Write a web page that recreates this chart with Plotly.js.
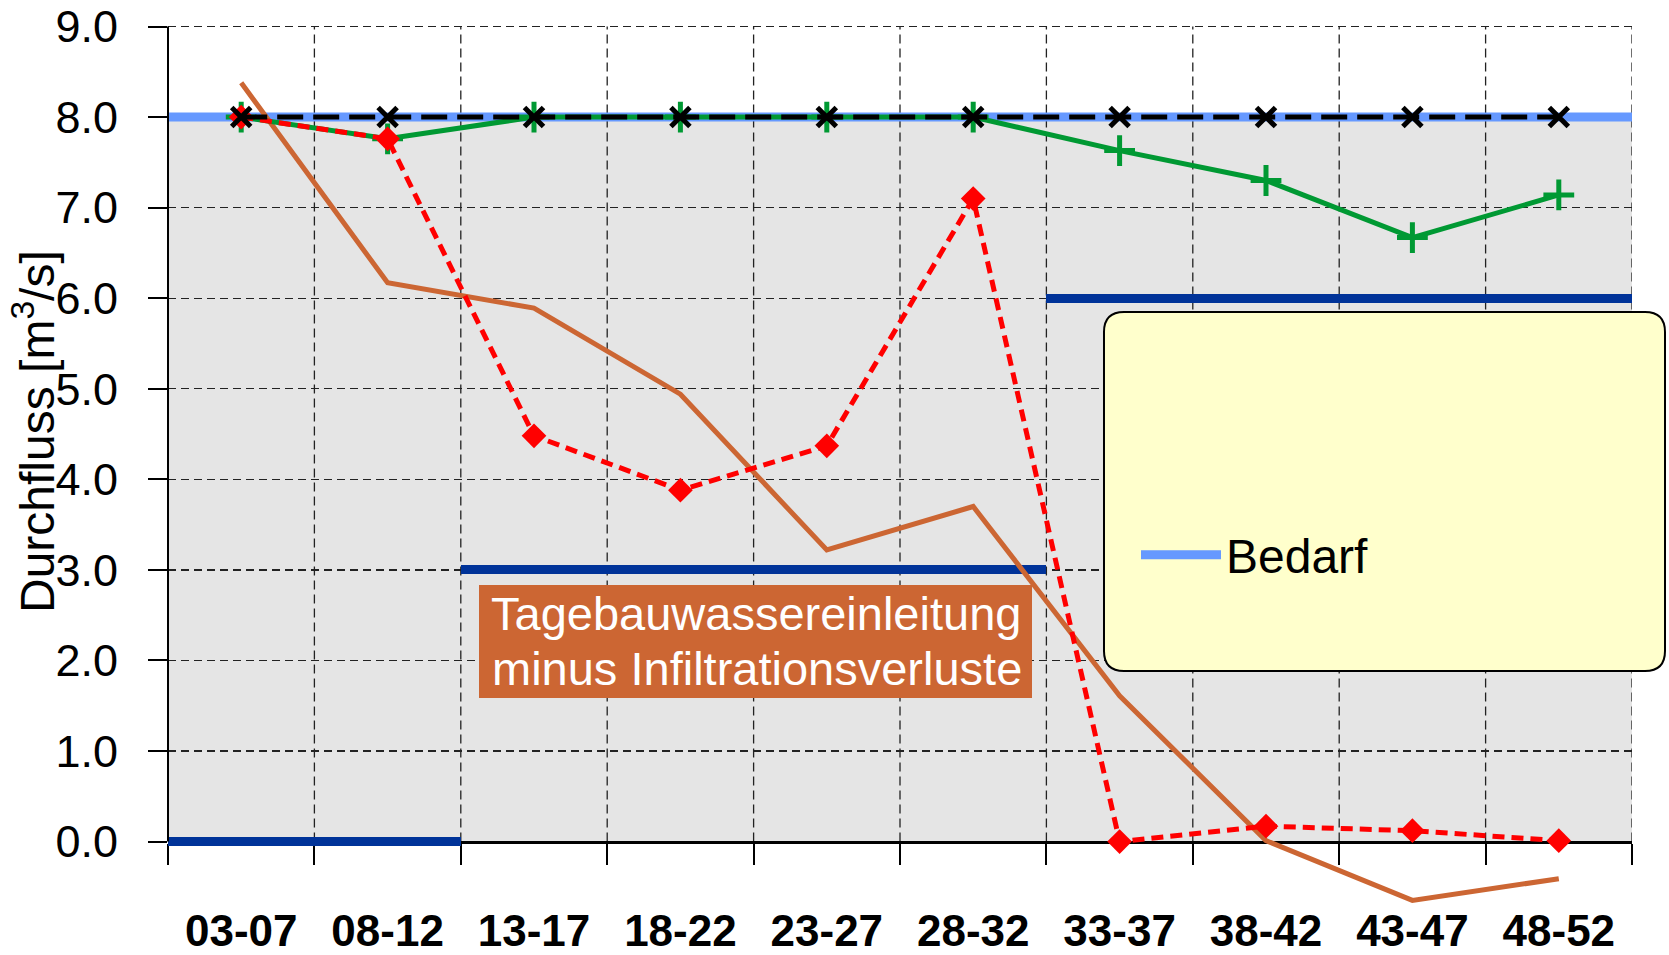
<!DOCTYPE html>
<html>
<head>
<meta charset="utf-8">
<script src="https://cdn.plot.ly/plotly-3.0.1.min.js"></script>
<style>html,body{margin:0;padding:0;background:#ffffff;}</style>
</head>
<body>
<div id="chart" style="width:1669px;height:955px;"></div>
<script>
// ---------- data ----------
const categories = ['03-07','08-12','13-17','18-22','23-27','28-32','33-37','38-42','43-47','48-52'];
const bedarf = [8, 8, 8, 8, 8, 8, 8, 8, 8, 8];
const zielwert = [8, 8, 8, 8, 8, 8, 8, 8, 8, 8];
const abflussGruen = [8.0, 7.76, 8.0, 8.0, 8.0, 8.0, 7.63, 7.30, 6.67, 7.14];
const abflussRot = [8.0, 7.76, 4.48, 3.88, 4.37, 7.10, 0.0, 0.17, 0.12, 0.01];
const tagebauwasser = [8.38, 6.17, 5.89, 4.94, 3.22, 3.70, 1.61, 0.01, -0.65, -0.41];
const stufe = [0, 0, 3, 3, 3, 3, 6, 6, 6, 6];
const yTickVals = [0, 1, 2, 3, 4, 5, 6, 7, 8, 9];
const yTickText = yTickVals.map(v => v.toFixed(1));
const yTitle = 'Durchfluss [m<sup>3</sup>/s]';
const annotationLines = ['Tagebauwassereinleitung', 'minus Infiltrationsverluste'];

// ---------- layout helpers (pixel -> paper) ----------
const W = 1669, H = 955;
const M = {l: 168, r: 37, t: 22, b: 41};
const PW = W - M.l - M.r, PH = H - M.t - M.b;
const X = p => (p - M.l) / PW;
const Y = p => (H - M.b - p) / PH;
const yMin = -0.8, yMax = 9.05;
const gridTop = Math.max(...yTickVals);
const stepThickness = 0.1;   // visual thickness of the step segments (data units)

const SANS = '"Liberation Sans", Arial, sans-serif';

function roundRect(x0, y0, x1, y1, r) {
  const f = (a, b) => X(a).toFixed(5) + ',' + Y(b).toFixed(5);
  return 'M' + f(x0 + r, y0) + ' L' + f(x1 - r, y0) + ' Q' + f(x1, y0) + ' ' + f(x1, y0 + r) +
         ' L' + f(x1, y1 - r) + ' Q' + f(x1, y1) + ' ' + f(x1 - r, y1) +
         ' L' + f(x0 + r, y1) + ' Q' + f(x0, y1) + ' ' + f(x0, y1 - r) +
         ' L' + f(x0, y0 + r) + ' Q' + f(x0, y0) + ' ' + f(x0 + r, y0) + ' Z';
}

// ---------- traces ----------
const traces = [
  { // Bedarf, drawn edge to edge via its own overlaid axis (first overlay = lowest)
    name: 'Bedarf', type: 'scatter', mode: 'lines',
    x: categories, y: bedarf, xaxis: 'x2', yaxis: 'y',
    line: {color: '#6699FF', width: 9}, showlegend: true
  },
  { // step segments, one full category wide each
    name: 'Stufe', type: 'bar',
    x: categories, y: stufe.map(() => stepThickness), base: stufe.map(v => v - stepThickness / 2),
    xaxis: 'x3', yaxis: 'y', width: 1,
    marker: {color: '#003399', line: {width: 0}}, showlegend: false
  },
  {
    name: 'Tagebauwassereinleitung minus Infiltrationsverluste', type: 'scatter', mode: 'lines',
    x: categories, y: tagebauwasser, xaxis: 'x3', yaxis: 'y',
    line: {color: '#CC6633', width: 5}, showlegend: false
  },
  {
    name: 'Abfluss A', type: 'scatter', mode: 'lines+markers',
    x: categories, y: abflussGruen, xaxis: 'x3', yaxis: 'y',
    line: {color: '#009933', width: 5},
    marker: {symbol: 'cross-thin', size: 22, line: {color: '#009933', width: 5}},
    showlegend: false
  },
  {
    name: 'Abfluss B', type: 'scatter', mode: 'lines+markers',
    x: categories, y: abflussRot, xaxis: 'x3', yaxis: 'y',
    line: {color: '#FF0000', width: 5, dash: '12px,7px'},
    marker: {symbol: 'diamond', size: 19, color: '#FF0000'},
    showlegend: false
  },
  {
    name: 'Zielwert', type: 'scatter', mode: 'lines+markers',
    x: categories, y: zielwert, xaxis: 'x3', yaxis: 'y',
    line: {color: '#000000', width: 5, dash: '26px,10px'},
    marker: {symbol: 'x-thin', size: 19, line: {color: '#000000', width: 5}},
    showlegend: false
  }
];

// ---------- shapes ----------
const shapes = [];
// gray area up to Bedarf
shapes.push({type: 'rect', xref: 'paper', yref: 'y', x0: 0, x1: 1, y0: 0, y1: Math.max(...bedarf),
  fillcolor: '#E5E5E5', line: {width: 0}, layer: 'below'});
// vertical dashed gridlines at category boundaries
for (let i = 1; i <= categories.length; i++) {
  shapes.push({type: 'line', xref: 'x', yref: 'y', x0: i - 0.5, x1: i - 0.5, y0: 0, y1: gridTop,
    line: {color: '#222222', width: 1.3, dash: '9px,5px'}, layer: 'below'});
}
// y axis line
shapes.push({type: 'line', xref: 'paper', yref: 'y', x0: 0, x1: 0, y0: 0, y1: gridTop,
  line: {color: '#000000', width: 2}, layer: 'above'});
// annotation box
shapes.push({type: 'rect', xref: 'paper', yref: 'paper', x0: X(479), x1: X(1032), y0: Y(698), y1: Y(585),
  fillcolor: '#CC6633', line: {width: 0}, layer: 'above'});
// legend box (rounded)
shapes.push({type: 'path', xref: 'paper', yref: 'paper', path: roundRect(1104, 312, 1665, 671, 20),
  fillcolor: '#FFFFCC', line: {color: '#000000', width: 2}, layer: 'above'});

const annotations = [
  {xref: 'paper', yref: 'paper', x: X(756), y: Y(613), xanchor: 'center', yanchor: 'middle',
   text: annotationLines[0], showarrow: false,
   font: {family: SANS, size: 47, color: '#FFFFFF'}},
  {xref: 'paper', yref: 'paper', x: X(757), y: Y(668), xanchor: 'center', yanchor: 'middle',
   text: annotationLines[1], showarrow: false,
   font: {family: SANS, size: 47, color: '#FFFFFF'}},
  // y axis title
  {xref: 'paper', yref: 'paper', x: X(34), y: Y(432), xanchor: 'center', yanchor: 'middle',
   text: yTitle, textangle: -90, showarrow: false,
   font: {family: SANS, size: 48, color: '#000000'}}
];

const catAxis = {type: 'category', categoryorder: 'array', categoryarray: categories};

const layout = {
  width: W, height: H,
  margin: M,
  paper_bgcolor: '#FFFFFF', plot_bgcolor: 'rgba(0,0,0,0)',
  showlegend: true,
  bargap: 0,
  legend: {x: X(1136), y: Y(555), xanchor: 'left', yanchor: 'middle',
    itemwidth: 80,
    bgcolor: 'rgba(0,0,0,0)', borderwidth: 0,
    font: {family: SANS, size: 48, color: '#000000'}},
  xaxis: Object.assign({}, catAxis, {
    range: [-0.5, categories.length - 0.5],
    anchor: 'free', position: (0 - yMin) / (yMax - yMin),
    showline: true, linecolor: '#000000', linewidth: 3, layer: 'below traces',
    ticks: 'outside', tickson: 'boundaries', ticklen: 21, tickwidth: 2, tickcolor: '#000000',
    showgrid: false, zeroline: false,
    ticklabelstandoff: 50,
    tickfont: {family: SANS, size: 44, color: '#000000', weight: 'bold'}
  }),
  xaxis2: Object.assign({}, catAxis, {
    overlaying: 'x', range: [0, categories.length - 1], visible: false
  }),
  xaxis3: Object.assign({}, catAxis, {
    overlaying: 'x', range: [-0.5, categories.length - 0.5], visible: false
  }),
  yaxis: {
    range: [yMin, yMax],
    tickmode: 'array', tickvals: yTickVals, ticktext: yTickText,
    ticks: 'outside', ticklen: 19, tickwidth: 2, tickcolor: '#000000',
    showgrid: true, gridcolor: '#222222', gridwidth: 1.3, griddash: '8px,5px',
    zeroline: false, showline: false,
    ticklabelstandoff: 21, ticklabeloverflow: 'allow',
    tickfont: {family: SANS, size: 45, color: '#000000'}
  },
  shapes: shapes,
  annotations: annotations
};

Plotly.newPlot('chart', traces, layout, {displayModeBar: false, staticPlot: true});
</script>
</body>
</html>
